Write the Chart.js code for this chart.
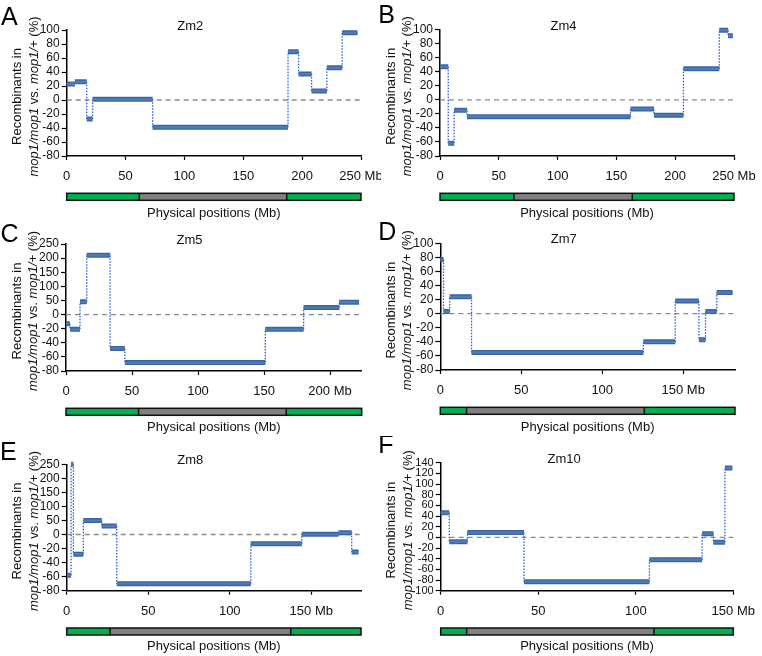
<!DOCTYPE html>
<html><head><meta charset="utf-8">
<script src="https://cdn.jsdelivr.net/npm/chart.js@4"></script>
<style>
body{margin:0;background:#fff;}
#wrap{position:relative;width:762px;height:656px;overflow:hidden;background:#fff;}
#wrap canvas{position:absolute;}
</style></head><body><div id="wrap">
<canvas id="cA" width="381" height="221" style="left:0px;top:0px"></canvas>
<canvas id="cB" width="384" height="221" style="left:378px;top:0px"></canvas>
<canvas id="cC" width="381" height="215" style="left:0px;top:221px"></canvas>
<canvas id="cD" width="384" height="215" style="left:378px;top:221px"></canvas>
<canvas id="cE" width="381" height="220" style="left:0px;top:436px"></canvas>
<canvas id="cF" width="384" height="220" style="left:378px;top:436px"></canvas>
</div>
<script>
// ---------------- DATA ----------------
// Segment boundaries (Mb) and ratio values (%) for each chromosome
const zm2Bounds = [0, 7, 17, 22, 73, 188, 197, 208, 221, 234, 247];
const zm2Values = [23, 26, -27, 1, -39, 69, 37, 13, 46, 96];
const zm2Centromere = [61.7, 186.9];
const zm2Length = 250;
const zm2XTicks = [0, 50, 100, 150, 200, 250];
const zm2YTicks = [-80, -60, -40, -20, 0, 20, 40, 60, 80, 100];

const zm4Bounds = [0, 7, 12, 23, 162, 182, 207, 237.5, 245, 249];
const zm4Values = [47, -62, -15, -24, -13, -22, 44, 99, 91];
const zm4Centromere = [62.9, 163.5];
const zm4Length = 250;
const zm4XTicks = [0, 50, 100, 150, 200, 250];
const zm4YTicks = [-80, -60, -40, -20, 0, 20, 40, 60, 80, 100];

const zm5Bounds = [0, 3, 10.6, 15.7, 33.4, 44.6, 151, 180, 207, 222];
const zm5Values = [-13, -21, 45, 210, -48, -68, -21, 25, 44];
const zm5Centromere = [55, 166.8];
const zm5Length = 224;
const zm5XTicks = [0, 50, 100, 150, 200];
const zm5YTicks = [-80, -60, -40, -20, 0, 50, 100, 150, 200, 250];

const zm7Bounds = [0, 2, 5.8, 19.3, 125.4, 145.1, 159.7, 163.8, 170.7, 180.5];
const zm7Values = [77, 3, 24, -55, -40, 18, -37, 3, 30];
const zm7Centromere = [16.2, 126];
const zm7Length = 182;
const zm7XTicks = [0, 50, 100, 150];
const zm7YTicks = [-80, -60, -40, -20, 0, 20, 40, 60, 80, 100];

const zm8Bounds = [0.5, 2.7, 4.1, 10.2, 21.5, 30.7, 112.9, 144.2, 166.7, 174.8, 179];
const zm8Values = [-58, 250, -28, 50, 30, -70, -13, 1, 6, -25];
const zm8Centromere = [26.6, 137.4];
const zm8Length = 180.5;
const zm8XTicks = [0, 50, 100, 150];
const zm8YTicks = [-80, -60, -40, -20, 0, 50, 100, 150, 200, 250];

const zm10Bounds = [0, 4.4, 13.7, 42.7, 107, 134, 139.8, 145.7, 149.5];
const zm10Values = [46, -8, 9, -83, -42, 7, -9, 130];
const zm10Centromere = [13.3, 109.3];
const zm10Length = 150;
const zm10XTicks = [0, 50, 100, 150];
const zm10YTicks = [-100, -80, -60, -40, -20, 0, 20, 40, 60, 80, 100, 120, 140];

const xAxisTitle = 'Physical positions (Mb)';
const yTitleLine1 = 'Recombinants in';
const yTitleLine2 = [['mop1/mop1', true], [' vs. ', false], ['mop1/+', true], [' (%)', false]];

// ---------------- LAYOUT / STYLE ----------------
const FF = '"Liberation Sans", Arial, Helvetica, sans-serif';
const panels = [
  {id:'cA', letter:'A', name:'Zm2', b:zm2Bounds, v:zm2Values, cen:zm2Centromere, len:zm2Length, xt:zm2XTicks, yt:zm2YTicks, broken:false,
   yW:66.7, padR:20, padT:30, xH:65, tPadB:0, lx:1, ly:24.5, ytSize:12},
  {id:'cB', letter:'B', name:'Zm4', b:zm4Bounds, v:zm4Values, cen:zm4Centromere, len:zm4Length, xt:zm4XTicks, yt:zm4YTicks, broken:false,
   yW:62, padR:28, padT:29.5, xH:65, tPadB:0, lx:0.2, ly:22.5, ytSize:12},
  {id:'cC', letter:'C', name:'Zm5', b:zm5Bounds, v:zm5Values, cen:zm5Centromere, len:zm5Length, xt:zm5XTicks, yt:zm5YTicks, broken:true,
   yW:66, padR:19.3, padT:23, xH:65, tPadB:1, lx:0.5, ly:20.5, ytSize:12},
  {id:'cD', letter:'D', name:'Zm7', b:zm7Bounds, v:zm7Values, cen:zm7Centromere, len:zm7Length, xt:zm7XTicks, yt:zm7YTicks, broken:false,
   yW:62.3, padR:27, padT:22.3, xH:66, tPadB:1, lx:0.2, ly:19, ytSize:12},
  {id:'cE', letter:'E', name:'Zm8', b:zm8Bounds, v:zm8Values, cen:zm8Centromere, len:zm8Length, xt:zm8XTicks, yt:zm8YTicks, broken:true,
   yW:66.7, padR:20, padT:28.3, xH:65.3, tPadB:1.5, lx:0, ly:24, ytSize:12},
  {id:'cF', letter:'F', name:'Zm10', b:zm10Bounds, v:zm10Values, cen:zm10Centromere, len:zm10Length, xt:zm10XTicks, yt:zm10YTicks, broken:false,
   yW:62.7, padR:28.7, padT:26.7, xH:65.3, tPadB:1.5, lx:0.2, ly:16.5, ytSize:11}
];

const decor = {
  id: 'decor',
  afterDraw(chart, args, o) {
    const ctx = chart.ctx, a = chart.chartArea, xs = chart.scales.x;
    ctx.save();
    // panel title
    ctx.fillStyle = '#111';
    ctx.font = '13px ' + FF;
    ctx.textAlign = 'center'; ctx.textBaseline = 'middle';
    ctx.fillText(o.name, a.left + 123.5, a.top - 3.5);
    // panel letter
    ctx.fillStyle = '#000';
    ctx.font = '25px ' + FF;
    ctx.textAlign = 'left'; ctx.textBaseline = 'alphabetic';
    ctx.fillText(o.letter, o.lx, o.ly);
    // y-axis title (two lines, mixed italic)
    const cy = (a.top + a.bottom) / 2 + 3.5;
    ctx.fillStyle = '#111';
    ctx.save();
    ctx.translate(a.left - 45.5, cy); ctx.rotate(-Math.PI / 2);
    ctx.font = '13px ' + FF; ctx.textAlign = 'center';
    ctx.fillText(yTitleLine1, 0, 0);
    ctx.restore();
    ctx.save();
    ctx.translate(a.left - 29, cy); ctx.rotate(-Math.PI / 2);
    ctx.textAlign = 'left';
    let total = 0;
    yTitleLine2.forEach(([t, it]) => { ctx.font = (it ? 'italic ' : '') + '13px ' + FF; total += ctx.measureText(t).width; });
    let x = -total / 2;
    yTitleLine2.forEach(([t, it]) => { ctx.font = (it ? 'italic ' : '') + '13px ' + FF; ctx.fillText(t, x, 0); x += ctx.measureText(t).width; });
    ctx.restore();
    // chromosome bar
    const x0 = xs.getPixelForValue(0), x1 = xs.getPixelForValue(o.len);
    const c0 = xs.getPixelForValue(o.cen[0]), c1 = xs.getPixelForValue(o.cen[1]);
    const y0 = a.bottom + 37.3, h = 7;
    ctx.fillStyle = '#00b050';
    ctx.fillRect(x0, y0, c0 - x0, h); ctx.fillRect(c1, y0, x1 - c1, h);
    ctx.fillStyle = '#808080';
    ctx.fillRect(c0, y0, c1 - c0, h);
    ctx.strokeStyle = '#111'; ctx.lineWidth = 1.5;
    ctx.strokeRect(x0, y0, x1 - x0, h);
    ctx.beginPath(); ctx.moveTo(c0, y0); ctx.lineTo(c0, y0 + h); ctx.moveTo(c1, y0); ctx.lineTo(c1, y0 + h); ctx.stroke();
    ctx.restore();
  }
};

function segData(b, v, f) {
  const d = [];
  for (let i = 0; i < v.length; i++) {
    d.push({x: b[i], y: f(v[i])}, {x: b[i + 1], y: f(v[i])});
    if (i < v.length - 1) d.push({x: b[i + 1], y: null});
  }
  return d;
}
function vertData(b, v, f) {
  const d = [];
  for (let i = 1; i < v.length; i++) {
    d.push({x: b[i], y: f(v[i - 1])}, {x: b[i], y: f(v[i])}, {x: b[i], y: null});
  }
  return d;
}

panels.forEach(p => {
  const f = p.broken ? (v => v >= 0 ? v / 50 : v / 20) : (v => v);
  const yPos = p.yt.map(f);
  const yLabel = new Map(p.yt.map(v => [f(v), String(v)]));
  const lastX = p.xt[p.xt.length - 1];
  new Chart(document.getElementById(p.id), {
    type: 'scatter',
    data: {
      datasets: [
        {data: segData(p.b, p.v, f), showLine: true, spanGaps: false, borderColor: '#4f7bb8', borderWidth: 2.2, pointRadius: 0, borderCapStyle: 'butt', order: 0, clip: 8},
        {data: segData(p.b, p.v, f), showLine: true, spanGaps: false, borderColor: '#3a64a2', borderWidth: 5, pointRadius: 0, borderCapStyle: 'butt', order: 1, clip: 8},
        {data: vertData(p.b, p.v, f), showLine: true, spanGaps: false, borderColor: '#2a5bd4', borderWidth: 1.3, borderDash: [1.5, 1.5], pointRadius: 0, order: 2, clip: 8},
        {data: [{x: 0, y: 0}, {x: p.len, y: 0}], showLine: true, borderColor: '#8a8a8a', borderWidth: 1.3, borderDash: [5, 4], pointRadius: 0, order: 3}
      ]
    },
    options: {
      responsive: false, animation: false, devicePixelRatio: 1, events: [],
      layout: {padding: {left: 0, right: p.padR, top: p.padT, bottom: 0}},
      plugins: {legend: {display: false}, tooltip: {enabled: false}, title: {display: false}, decor: p},
      scales: {
        x: {
          type: 'linear', min: 0, max: p.len,
          afterBuildTicks: s => { s.ticks = p.xt.map(v => ({value: v})); },
          afterFit: s => { s.height = p.xH; s.paddingLeft = 0; s.paddingRight = 0; s.paddingTop = 0; s.paddingBottom = 0; },
          grid: {display: true, drawOnChartArea: false, drawTicks: true, tickLength: 4, tickColor: '#000', tickWidth: 1.2},
          border: {display: true, color: '#000', width: 1.5},
          ticks: {color: '#111', font: {size: 13, family: FF}, padding: 9, maxRotation: 0, autoSkip: false,
                  callback: v => v === lastX ? v + ' Mb' : String(v)},
          title: {display: true, text: xAxisTitle, color: '#111', font: {size: 13, family: FF}, padding: {top: 0, bottom: p.tPadB}}
        },
        y: {
          type: 'linear', min: Math.min(...yPos), max: Math.max(...yPos),
          afterBuildTicks: s => { s.ticks = yPos.slice().sort((m, n) => m - n).map(v => ({value: v})); },
          afterFit: s => { s.width = p.yW; s.paddingLeft = 0; s.paddingRight = 0; s.paddingTop = 0; s.paddingBottom = 0; },
          grid: {display: true, drawOnChartArea: false, drawTicks: true, tickLength: 5, tickColor: '#000', tickWidth: 1.2},
          border: {display: true, color: '#000', width: 1.5},
          ticks: {color: '#111', font: {size: p.ytSize, family: FF}, padding: 2, autoSkip: false,
                  callback: v => yLabel.has(v) ? yLabel.get(v) : ''}
        }
      }
    },
    plugins: [decor]
  });
});
</script>
</body></html>
